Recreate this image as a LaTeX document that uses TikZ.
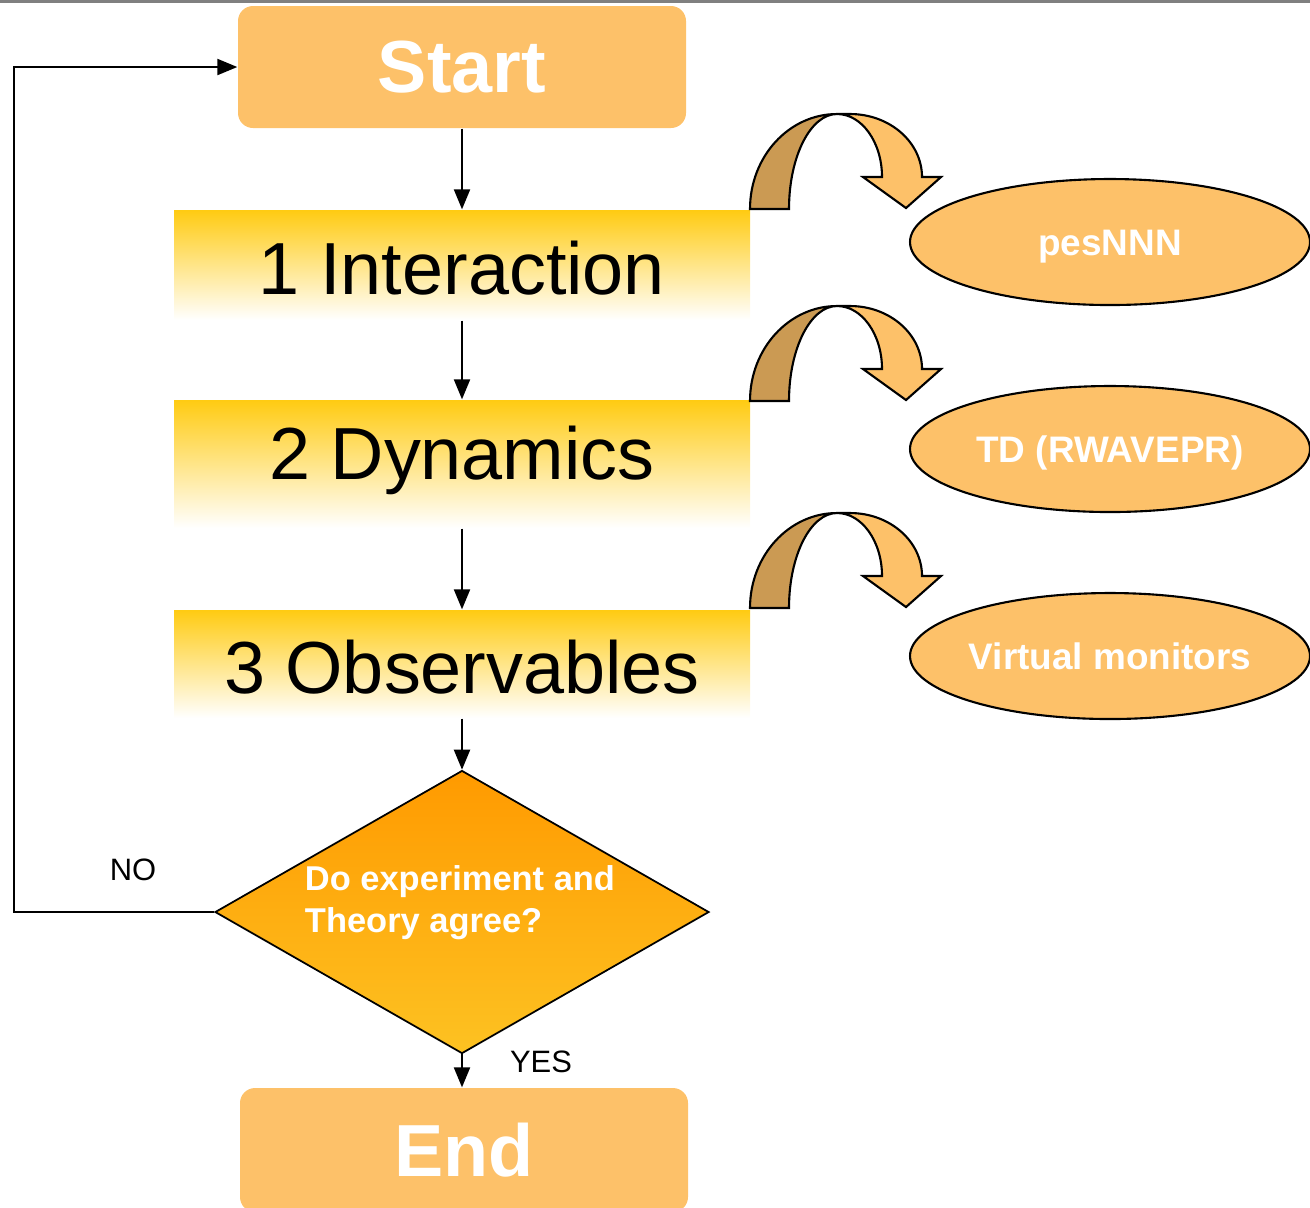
\documentclass[tikz,border=0pt]{standalone}
\usepackage{fontspec}
\setmainfont{Liberation Sans}
\usepackage{tikz}
\usepackage{xcolor}
\usetikzlibrary{positioning, arrows.meta, shapes.geometric}

\definecolor{peach}{HTML}{FDC169}
\definecolor{bandtan}{HTML}{CB9A53}
\definecolor{stagegold}{HTML}{FFCB12}
\definecolor{amber}{HTML}{FF9A00}
\definecolor{amberlow}{HTML}{FDC222}

\begin{document}
\begin{tikzpicture}[x=0.1mm, y=0.1mm,
  flow/.style={-{Triangle[width=4.6pt,length=5.7pt]}, line width=0.5pt},
  term/.style={rectangle, rounded corners=1.5mm, fill=peach, text=white,
    font=\fontsize{21}{25}\selectfont\bfseries, minimum width=44.8mm, minimum height=12.2mm},
  stage/.style={rectangle, top color=stagegold, bottom color=white, inner sep=0pt,
    minimum width=57.6mm, font=\fontsize{21}{25}\selectfont},
  tool/.style={ellipse, draw, line width=0.6pt, fill=peach, text=white, inner sep=0pt,
    text height=3.6mm, text depth=1.0mm,
    font=\fontsize{10.5}{12}\selectfont\bfseries, minimum width=40mm, minimum height=12.6mm},
  tag/.style={font=\fontsize{8.8}{10}\selectfont}]

\useasboundingbox (0,0) rectangle (1310,-1207);

% Top rule
\fill[gray] (0,0) rectangle (1310,-3);

% Define flow chart nodes
\node[term] (start) at (462,-67) {Start};
\node[stage, text height=8.4mm, text depth=2.6mm, anchor=base] (interact) at (462,-294) {1 Interaction};
\node[stage, text height=7.9mm, text depth=4.9mm, anchor=base] (dynam) at (462,-479) {2 Dynamics};
\node[stage, text height=8.3mm, text depth=2.5mm, anchor=base] (observ) at (462,-693) {3 Observables};
\node[diamond, draw, line width=0.5pt, top color=amber, bottom color=amberlow,
  inner sep=0pt, minimum width=49.4mm, minimum height=28.3mm] (decide) at (462,-912) {};
\node[text=white, align=left, font=\fontsize{9.8}{12}\selectfont\bfseries] (question) at (460,-903)
  {Do experiment and\\Theory agree?};
\node[term, minimum height=12.4mm] (stop) at (464,-1150) {End};

% Tools
\node[tool] (pes) at (1110,-242) {pesNNN};
\node[tool] (td) at (1110,-449) {TD (RWAVEPR)};
\node[tool] (monitor) at (1110,-656) {Virtual monitors};

% Curved arrows to the tools
\foreach \dy in {0,192,399} {
  \begin{scope}[shift={(0,-\dy)}]
    \filldraw[fill=bandtan, line width=0.6pt] (750,-209)
      arc[start angle=180, end angle=90, x radius=87, y radius=95]
      arc[start angle=90, end angle=180, x radius=48, y radius=95] -- cycle;
    \filldraw[fill=peach, line width=0.6pt] (837,-114) -- (850,-114)
      arc[start angle=90, end angle=0, x radius=72, y radius=63]
      -- (941,-177) -- (906,-208) -- (863,-177) -- (882,-177)
      arc[start angle=0, end angle=90, x radius=45, y radius=63] -- cycle;
  \end{scope}
}

% Main flow
\draw[flow] (start.south) -- (interact.north);
\draw[flow] (interact.south) -- (dynam.north);
\draw[flow] (dynam.south) -- (observ.north);
\draw[flow] (observ.south) -- (decide.north);
\draw[flow] (decide.south) -- (decide.south |- stop.north);
\node[tag] (yes) at (541,-1062) {YES};

% Loop back
\coordinate (back) at (14,-912);
\draw[flow] (decide.west) -- (back) |- (start.west);
\node[tag] (no) at (133,-870) {NO};

\end{tikzpicture}
\end{document}
